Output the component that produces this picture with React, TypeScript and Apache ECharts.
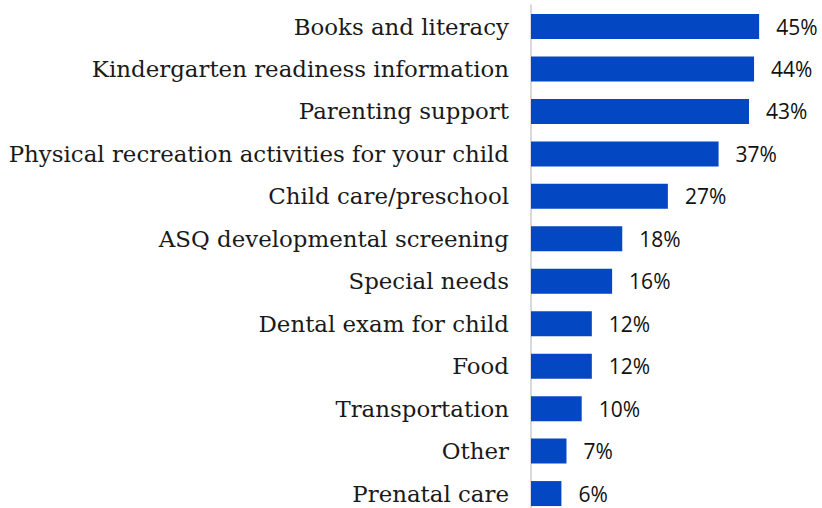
import React, { useEffect, useRef } from "react";
import * as echarts from "echarts";

const categories = [
  "Books and literacy",
  "Kindergarten readiness information",
  "Parenting support",
  "Physical recreation activities for your child",
  "Child care/preschool",
  "ASQ developmental screening",
  "Special needs",
  "Dental exam for child",
  "Food",
  "Transportation",
  "Other",
  "Prenatal care",
];
const values = [45, 44, 43, 37, 27, 18, 16, 12, 12, 10, 7, 6];

export default function App() {
  const ref = useRef<HTMLDivElement>(null);
  useEffect(() => {
    if (!ref.current) return;
    const chart = echarts.init(ref.current, null, { renderer: "svg" });
    chart.setOption({
      animation: false,
      grid: {
        left: 531,
        top: 5.3,
        width: 291,
        height: 509.5,
        containLabel: false,
        outerBoundsMode: "none",
      },
      xAxis: {
        type: "value",
        min: 0,
        max: 57.4,
        show: false,
      },
      yAxis: {
        type: "category",
        inverse: true,
        data: categories,
        axisLine: { show: true, lineStyle: { color: "#d9d9d9", width: 2 } },
        axisTick: { show: false },
        axisLabel: {
          margin: 22,
          color: "#1a1a1a",
          fontFamily: "DejaVu Serif",
          fontSize: 22.9,
        },
      },
      series: [
        {
          type: "bar",
          data: values,
          barWidth: 25,
          itemStyle: { color: "#0447C2" },
          label: {
            show: true,
            position: "right",
            distance: 17,
            formatter: "{c}%",
            color: "#111",
            fontFamily: "Open Sans",
            fontSize: 21,
          },
        },
      ],
    });
    return () => chart.dispose();
  }, []);
  return <div ref={ref} style={{ width: 822, height: 508, position: "absolute", left: 0, top: 0 }} />;
}
